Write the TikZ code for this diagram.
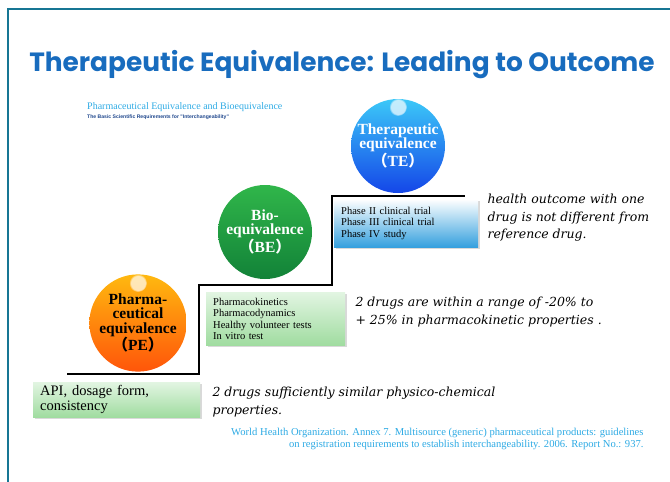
\documentclass[tikz,border=0pt]{standalone}
\usepackage{fontspec}
\setmainfont{Liberation Serif}
\newfontfamily\titlefont{Poppins}
\newfontfamily\noteitalic{DejaVu Serif}
\newfontfamily\tinysans{Liberation Sans}
\newfontfamily\cjk{Noto Sans CJK SC}
\usetikzlibrary{shadows,fadings}

\definecolor{framecol}{RGB}{22,118,148}
\definecolor{titleblue}{RGB}{24,108,190}
\definecolor{citeblue}{RGB}{45,170,228}
\definecolor{subnavy}{RGB}{30,70,140}
\definecolor{peTop}{RGB}{255,185,15}
\definecolor{peBot}{RGB}{255,85,10}
\definecolor{beTop}{RGB}{48,182,74}
\definecolor{beBot}{RGB}{18,130,56}
\definecolor{teTop}{RGB}{60,200,248}
\definecolor{teBot}{RGB}{20,70,232}
\definecolor{greenTop}{RGB}{226,245,226}
\definecolor{greenBot}{RGB}{160,220,160}
\definecolor{blueBot}{RGB}{52,160,222}

\newcommand{\fw}[1]{{\cjk #1}}

\tikzset{
  stagecircle/.style={circle, minimum size=94pt, inner sep=0pt, align=center,
    font=\bfseries\fontsize{15.5}{14.5}\selectfont},
  stagebox/.style={rectangle, anchor=north west, align=left, inner sep=0pt,
    drop shadow={shadow xshift=1.5pt, shadow yshift=-1.5pt, fill=black!25, opacity=.6}},
  smallbox/.style={stagebox, font=\fontsize{10.5}{11.5}\selectfont, inner xsep=7pt},
  note/.style={anchor=west, align=left,
    font=\noteitalic\itshape\fontsize{12.5}{17.5}\selectfont},
  stair/.style={line width=2pt, black},
  gloss/.style={white, opacity=.7, path fading=circle with fuzzy edge 20 percent}
}

\begin{document}
\begin{tikzpicture}[x=1pt,y=-1pt]
\useasboundingbox (0,0) rectangle (670,482);

% slide frame
\draw[framecol, line width=2.5pt] (670,9) -- (8,9) -- (8,482);

% heading
\node[font=\titlefont\bfseries\fontsize{26.4}{28}\selectfont, text=titleblue] (title) at (342,65)
  {Therapeutic Equivalence: Leading to Outcome};
\node[anchor=west, font=\fontsize{10}{10}\selectfont, text=citeblue, inner sep=0pt] (sub1) at (87,107)
  {Pharmaceutical Equivalence and Bioequivalence};
\node[anchor=west, font=\tinysans\bfseries\fontsize{5.1}{5}\selectfont, text=subnavy, inner sep=0pt] (sub2) at (87,117)
  {The Basic Scientific Requirements for "Interchangeability"};

% staircase
\coordinate (s0) at (67,374);
\coordinate (s1) at (199,374);
\coordinate (s2) at (199,285);
\coordinate (s3) at (332,285);
\coordinate (s4) at (332,196);
\coordinate (s5) at (465,196);
\draw[stair] (s0) -- (s1) -- (s2) -- (s3) -- (s4) -- (s5);

% stage circles
\node[stagecircle, top color=peTop, bottom color=peBot, text=black] (pe) at (138,323)
  {Pharma-\\ceutical\\equivalence\\\fw{（}PE\fw{）}};
\fill[gloss] (138,283) circle (9pt);

\node[stagecircle, top color=beTop, bottom color=beBot, text=white] (be) at (265,232)
  {Bio-\\equivalence\\\fw{（}BE\fw{）}};

\node[stagecircle, top color=teTop, bottom color=teBot, text=white] (te) at (398,146)
  {Therapeutic\\equivalence\\\fw{（}TE\fw{）}};
\fill[gloss] (398,107) circle (9pt);

% requirement boxes
\node[stagebox, top color=greenTop, bottom color=greenBot, minimum width=167pt, minimum height=35pt,
  text width=153pt, inner xsep=6pt, font=\fontsize{14.5}{14.5}\selectfont] (pebox) at (33,382)
  {API, dosage form,\\consistency};

\node[smallbox, top color=greenTop, bottom color=greenBot, minimum width=139pt, minimum height=53pt,
  text width=125pt] (bebox) at (206,292)
  {Pharmacokinetics\\Pharmacodynamics\\Healthy volunteer tests\\In vitro test};

\node[smallbox, top color=white, bottom color=blueBot, minimum width=144pt, minimum height=48pt,
  text width=130pt] (tebox) at (334,199)
  {Phase II clinical trial\\Phase III clinical trial\\Phase IV study};

% outcome statements
\node[note] (penote) at (209,402)
  {2 drugs sufficiently similar physico-chemical\\properties.};
\node[note] (benote) at (352,312)
  {2 drugs are within a range of -20\% to\\+ 25\% in pharmacokinetic properties .};
\node[note] (tenote) at (484,218)
  {health outcome with one\\drug is not different from\\reference drug.};

% source
\node[anchor=east, align=right, text=citeblue, font=\fontsize{10.6}{12}\selectfont] (cite) at (647,439)
  {World Health Organization. Annex 7. Multisource (generic) pharmaceutical products: guidelines\\
   on registration requirements to establish interchangeability. 2006. Report No.: 937.};
\end{tikzpicture}
\end{document}
